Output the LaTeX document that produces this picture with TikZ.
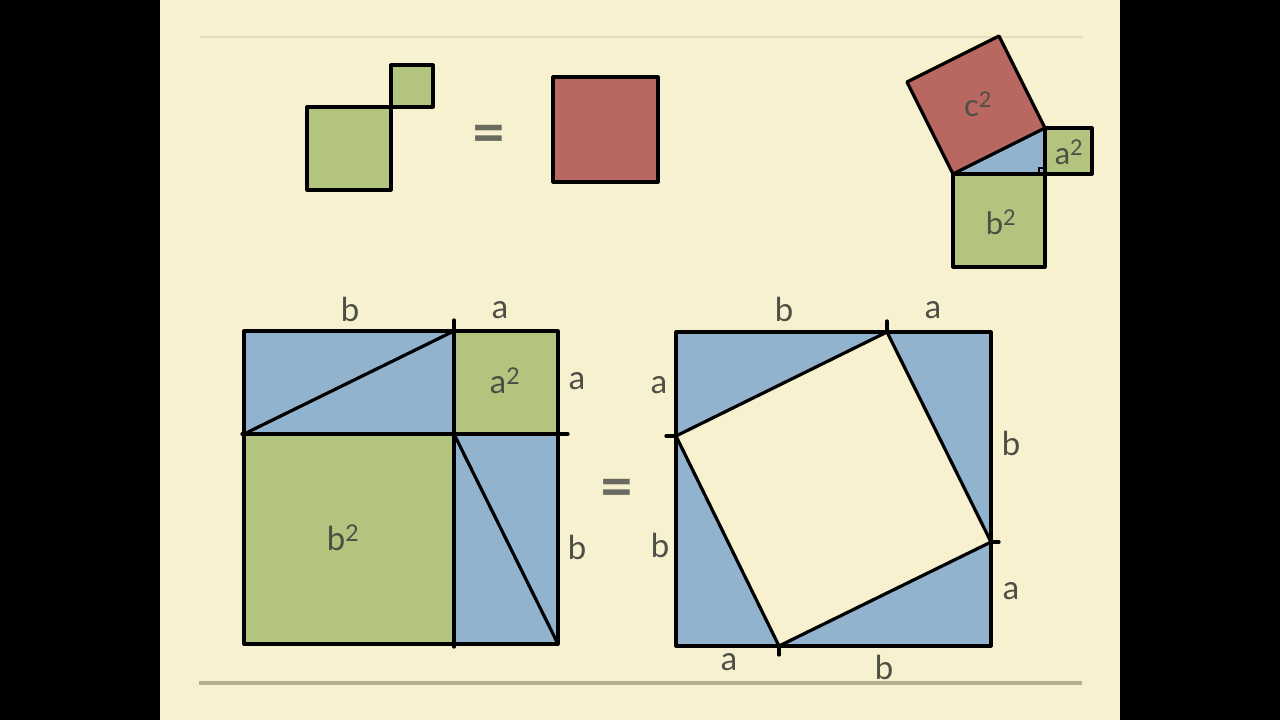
\documentclass[tikz,border=0pt]{standalone}
\usepackage{fontspec}
\setmainfont{Lato}
\begin{document}
\begin{tikzpicture}[x=1pt,y=-1pt,
  edge/.style={line width=3.2pt,line cap=round,line join=round,draw=black},
  gfill/.style={fill=sqgreen},
  bfill/.style={fill=sqblue},
  rfill/.style={fill=sqred},
  lbl/.style={text=txtgray,font=\fontsize{33}{36}\selectfont,inner sep=0pt},
  slbl/.style={text=txtgray,font=\fontsize{31}{34}\selectfont,inner sep=0pt},
  eqs/.style={text=eqgray,font=\fontsize{60}{64}\selectfont\bfseries,inner sep=0pt}]
\definecolor{panel}{HTML}{F7F1D0}
\definecolor{sqgreen}{HTML}{B2C47E}
\definecolor{sqblue}{HTML}{91B3CE}
\definecolor{sqred}{HTML}{B86860}
\definecolor{txtgray}{HTML}{4E4E44}
\definecolor{eqgray}{HTML}{6A6A60}
\definecolor{topline}{HTML}{E4DCBC}
\definecolor{botline}{HTML}{B4AE94}
\useasboundingbox (0,0) rectangle (1280,720);
\fill[black] (0,0) rectangle (1280,720);
\fill[panel] (160,0) rectangle (1120,720);
% rules
\coordinate (tl1) at (200,37); \coordinate (tl2) at (1083,37);
\draw[topline,line width=2.2pt] (tl1) -- (tl2);
\coordinate (bl1) at (199,683); \coordinate (bl2) at (1082,683);
\draw[botline,line width=4pt] (bl1) -- (bl2);

% ---------- top-left: two green squares = red square
\draw[edge,gfill] (307,107) rectangle (391,190);
\draw[edge,gfill] (391,65) rectangle (433,107);
\node[eqs] (eq1) at (489,139) {=};
\draw[edge,rfill] (553,77) rectangle (658,182);

% ---------- top-right: Pythagoras figure
\coordinate (A) at (953,174);
\coordinate (B) at (1045,174);
\coordinate (C) at (1045,128);
\coordinate (D) at (999,36);
\coordinate (E) at (907,82);
\fill[sqblue] (A) -- (B) -- (C) -- cycle;
\draw[edge,rfill] (A) -- (C) -- (D) -- (E) -- cycle;
\draw[edge,gfill] (C) rectangle (1092,174);
\draw[edge,gfill] (A) rectangle (1045,267);
\draw[line width=1.8pt] (1039,174) -- (1039,168) -- (1045,168);
\draw[edge] (A) -- (B) -- (C);
\node[slbl] (c2) at (978,104) {c\textsuperscript{2}};
\node[slbl] (a2s) at (1069,152) {a\textsuperscript{2}};
\node[slbl] (b2s) at (1001,222) {b\textsuperscript{2}};

% ---------- bottom-left composite square
\coordinate (P1) at (244,331);
\coordinate (P2) at (454,331);
\coordinate (P3) at (558,331);
\coordinate (P4) at (244,434);
\coordinate (P5) at (454,434);
\coordinate (P6) at (558,434);
\coordinate (P7) at (244,644);
\coordinate (P8) at (454,644);
\coordinate (P9) at (558,644);
\fill[sqblue] (P1) rectangle (P5);
\fill[sqgreen] (P2) rectangle (P6);
\fill[sqgreen] (P4) rectangle (P8);
\fill[sqblue] (P5) rectangle (P9);
\draw[edge] (P1) rectangle (P9);
\coordinate (V1) at (454,320); \coordinate (V2) at (454,647);
\draw[edge] (V1) -- (V2);
\coordinate (H1) at (242,434); \coordinate (H2) at (568,434);
\draw[edge] (H1) -- (H2);
\draw[edge] (P4) -- (P2);
\draw[edge] (P5) -- (P9);
\node[lbl] (lb1) at (350,309) {b};
\node[lbl] (la1) at (500,310) {a};
\node[lbl] (la2) at (577,381) {a};
\node[lbl] (lb2) at (577,547) {b};
\node[lbl] (a2b) at (505,381) {a\textsuperscript{2}};
\node[lbl] (b2b) at (343,538) {b\textsuperscript{2}};

\node[eqs] (eq2) at (617,493) {=};

% ---------- bottom-right square with tilted square
\coordinate (Q1) at (676,332);
\coordinate (Q2) at (991,332);
\coordinate (Q3) at (991,646);
\coordinate (Q4) at (676,646);
\coordinate (T) at (887,332);
\coordinate (R) at (991,542);
\coordinate (Bm) at (779,646);
\coordinate (L) at (676,436);
\fill[sqblue] (Q1) rectangle (Q3);
\fill[panel] (T) -- (R) -- (Bm) -- (L) -- cycle;
\draw[edge] (Q1) rectangle (Q3);
\draw[edge] (T) -- (R) -- (Bm) -- (L) -- cycle;
\coordinate (tT) at (887,321);
\draw[edge] (T) -- (tT);
\coordinate (tL) at (666,436);
\draw[edge] (L) -- (tL);
\coordinate (tR) at (999,542);
\draw[edge] (R) -- (tR);
\coordinate (tB) at (779,655);
\draw[edge] (Bm) -- (tB);
\node[lbl] (rb1) at (784,309) {b};
\node[lbl] (ra1) at (933,310) {a};
\node[lbl] (ra2) at (659,385) {a};
\node[lbl] (rb2) at (660,545) {b};
\node[lbl] (rb3) at (1011,443) {b};
\node[lbl] (ra3) at (1011,591) {a};
\node[lbl] (ra4) at (729,662) {a};
\node[lbl] (rb4) at (884,667) {b};
\end{tikzpicture}
\end{document}
